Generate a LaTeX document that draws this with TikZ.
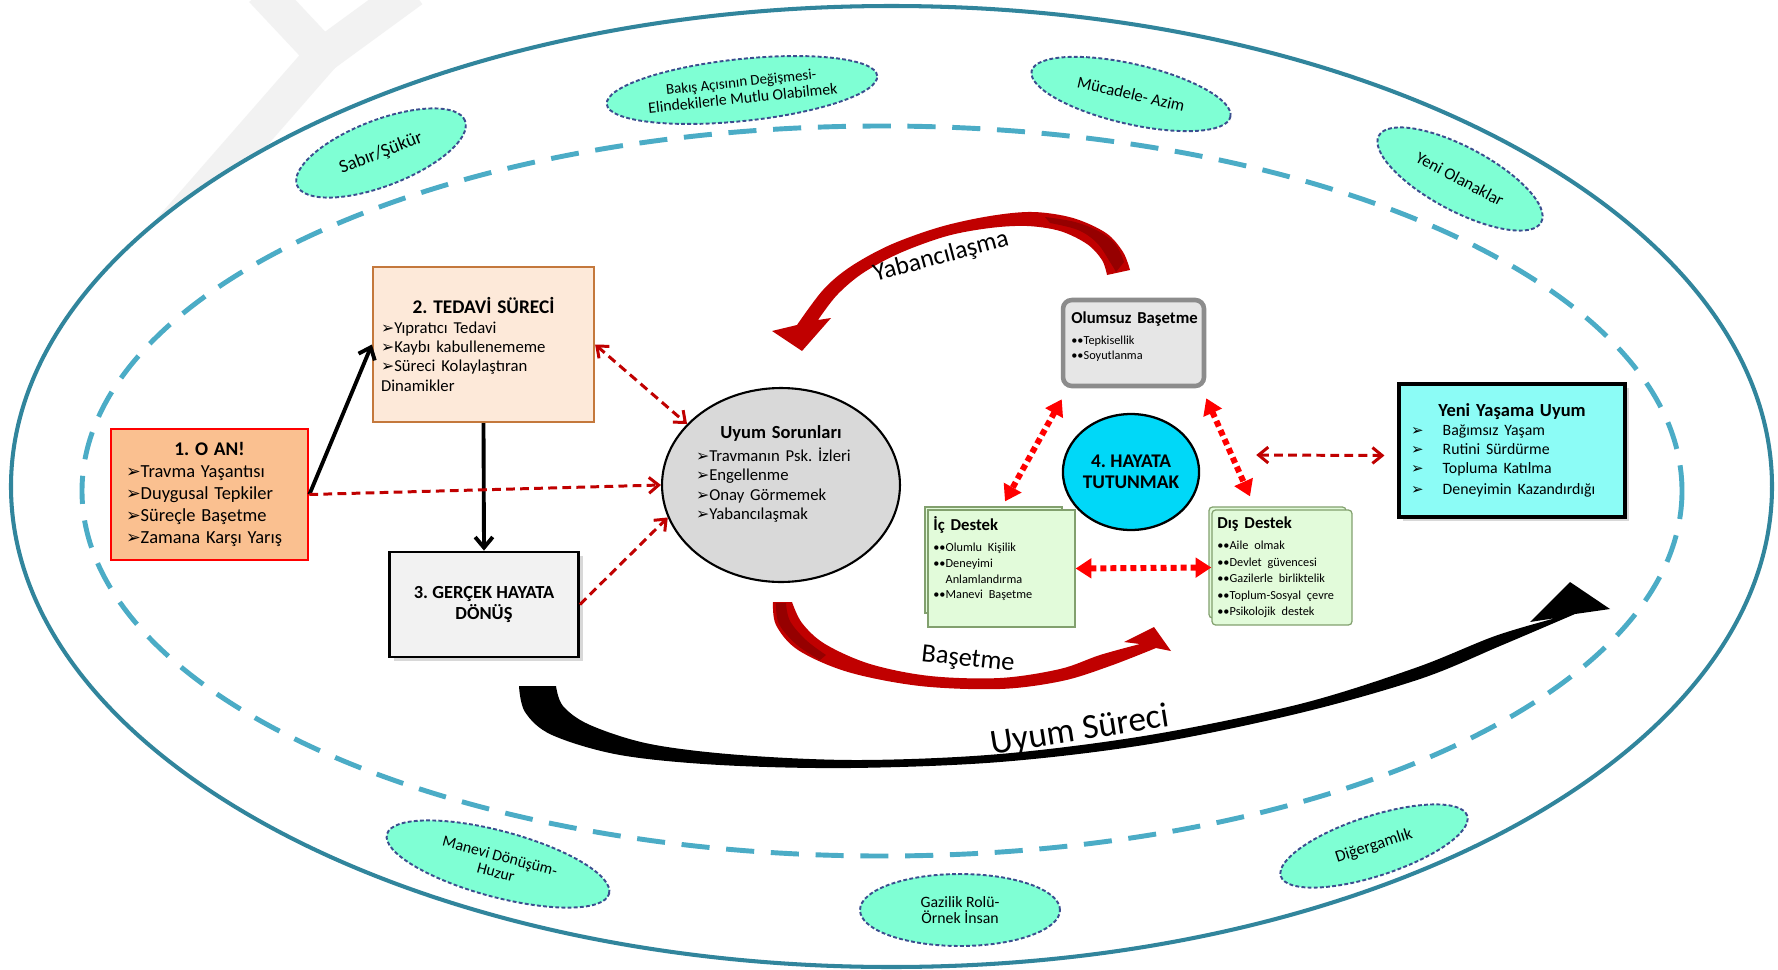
\documentclass[tikz,border=0pt]{standalone}
\usepackage{fontspec}
\setmainfont{Carlito}
\newfontfamily\djv{DejaVu Sans}
\usetikzlibrary{arrows.meta,shapes.geometric,shadows,calc}
\frenchspacing

\definecolor{ringteal}{RGB}{49,133,156}
\definecolor{ringblue}{RGB}{75,172,198}
\definecolor{tagfill}{RGB}{127,255,212}
\definecolor{tagline}{RGB}{59,78,143}
\definecolor{oanfill}{RGB}{250,192,144}
\definecolor{tedfill}{RGB}{253,233,217}
\definecolor{tedline}{RGB}{196,120,60}
\definecolor{darkred}{RGB}{192,0,0}
\definecolor{deepred}{RGB}{150,0,0}
\definecolor{uyfill}{RGB}{217,217,217}
\definecolor{olfill}{RGB}{230,230,230}
\definecolor{olline}{RGB}{140,140,140}
\definecolor{cyanfill}{RGB}{0,216,248}
\definecolor{grnfill}{RGB}{226,251,218}
\definecolor{grnline}{RGB}{130,160,110}
\definecolor{yenifill}{RGB}{140,252,246}
\definecolor{dotred}{RGB}{255,0,0}

\newcommand\fsz[2]{\fontsize{#1}{#2}\selectfont}
\newcommand\arw[1]{{\djv\fontsize{#1}{#1}\selectfont ➢}}
\newcommand\yitem{\makebox[18pt][l]{\arw{8.5}}}
\def\pu{0.569pt}

\tikzset{
  redbarb/.tip={Straight Barb[length=5.5pt,width=9pt]},
  redtri/.tip={Triangle[length=9pt,width=11pt]}
}

\begin{document}
\begin{tikzpicture}[x=0.02cm,y=-0.02cm,
  every node/.style={inner sep=0pt},
  tag/.style={ellipse, draw=tagline, fill=tagfill, line width=1.1pt,
    dash pattern=on 2.2pt off 1.3pt, align=center, font={\fsz{9}{9.5}}},
  oanbox/.style={draw=red, line width=1.6pt, fill=oanfill,
    minimum width=197*\pu, minimum height=131*\pu, text width=167*\pu, align=left},
  tedbox/.style={draw=tedline, line width=1.3pt, fill=tedfill,
    minimum width=221*\pu, minimum height=155*\pu, text width=205*\pu, align=left},
  gercekbox/.style={draw=black, line width=1.6pt, fill=black!5,
    minimum width=189*\pu, minimum height=105*\pu, align=center,
    font={\fsz{10.5}{12}\bfseries},
    drop shadow={shadow xshift=2.5pt, shadow yshift=-2.5pt, opacity=0.3}},
  uybox/.style={ellipse, draw=black, line width=1.2pt, fill=uyfill,
    minimum width=238*\pu, minimum height=194*\pu},
  olbox/.style={draw=olline, line width=2.6pt, fill=olfill, rounded corners=5pt,
    minimum width=141*\pu, minimum height=86*\pu},
  hayata/.style={ellipse, draw=black, line width=1.3pt, fill=cyanfill,
    minimum width=136*\pu, minimum height=116*\pu, align=center,
    font={\fsz{11}{12}\bfseries}},
  sheet/.style={draw=grnline, line width=0.7pt, fill=grnfill},
  yenibox/.style={draw=black, line width=1.8pt, fill=yenifill,
    minimum width=226*\pu, minimum height=133*\pu, text width=202*\pu, align=left,
    drop shadow={shadow xshift=2.5pt, shadow yshift=-2.5pt, opacity=0.3}},
  txt/.style={align=left},
  flow/.style={draw=black, line width=2.2pt, -{Straight Barb[length=6pt,width=10pt]}},
  reddash/.style={draw=darkred, line width=1.7pt, dash pattern=on 5pt off 3pt},
  reddot/.style={draw=dotred, line width=3.4pt, dash pattern=on 3.4pt off 2.3pt, redtri-redtri},
  wm/.style={draw=black!5, line width=20pt}
]
\fill[white] (0,0) rectangle (1778,970);
\useasboundingbox (0,0) rectangle (1778,970);

% faint watermark letter behind the rings
\draw[wm] (262,-10) -- (323,55);
\draw[wm] (412,-10) -- (323,55);
\draw[wm] (323,55) -- (170,230);

% rings
\draw[draw=ringteal, line width=2.3pt, fill=white] (891.5,486.5) ellipse [x radius=880.5, y radius=480.5];
\draw[draw=ringblue, line width=2.8pt, dash pattern=on 16pt off 9.5pt] (882,491) ellipse [x radius=800, y radius=365];

% value tags on the ring
\node[tag, minimum width=180*\pu, minimum height=66*\pu, rotate=21] (sabir) at (381,153) {\fsz{10.5}{11}Sabır/Şükür};
\node[tag, minimum width=272*\pu, minimum height=62*\pu, rotate=6] (bakis) at (742,90) {\fsz{8.5}{9.5}Bakış Açısının Değişmesi-\\Elindekilerle Mutlu Olabilmek};
\node[tag, minimum width=204*\pu, minimum height=60*\pu, rotate=-13] (mucadele) at (1131,94) {\fsz{9.5}{10}Mücadele- Azim};
\node[tag, minimum width=184*\pu, minimum height=64*\pu, rotate=-28] (yeniol) at (1460,179) {\fsz{9.5}{10}Yeni Olanaklar};
\node[tag, minimum width=230*\pu, minimum height=66*\pu, rotate=-15] (manevi) at (498,864) {Manevi Dönüşüm-\\Huzur};
\node[tag, minimum width=200*\pu, minimum height=72*\pu] (gazilik) at (960,910) {Gazilik Rolü-\\Örnek İnsan};
\node[tag, minimum width=196*\pu, minimum height=60*\pu, rotate=18] (diger) at (1374,846) {\fsz{9.5}{10}Diğergamlık};

% curved block arrows
\fill[darkred] plot[smooth,tension=0.55] coordinates {(1130,270) (1123,252) (1106,233) (1073,218) (1033,212) (990,216) (940,227) (890,245) (850,267) (823,290) (797,325)}
  -- (772,331) -- (802,351) -- (831,318)
  -- plot[smooth,tension=0.55] coordinates {(818,320) (837,295) (863,273) (900,253) (947,236) (990,228) (1027,226) (1060,231) (1087,244) (1102,260) (1107,275)} -- cycle;
\fill[deepred] plot[smooth,tension=0.6] coordinates {(1124,262) (1116,245) (1100,232) (1075,222) (1045,217)}
  -- plot[smooth,tension=0.6] coordinates {(1050,223) (1078,230) (1097,243) (1110,262) (1116,272)} -- cycle;

\fill[darkred] plot[smooth,tension=0.55] coordinates {(773,602) (776,625) (798,650) (848,672) (920,686) (1000,689) (1062,681) (1110,666) (1156,648)}
  -- (1171,651) -- (1154,627) -- (1124,642)
  -- plot[smooth,tension=0.55] coordinates {(1140,644) (1100,655) (1060,669) (1000,678) (930,676) (870,664) (825,644) (802,623) (792,602)} -- cycle;
\fill[deepred] plot[smooth,tension=0.6] coordinates {(776,603) (779,624) (797,645) (820,660)}
  -- plot[smooth,tension=0.6] coordinates {(826,655) (806,640) (790,621) (786,603)} -- cycle;

\fill[black] plot[smooth,tension=0.55] coordinates {(519,686) (525,712) (552,735) (620,755) (720,765) (850,768) (1000,762) (1150,744) (1300,713) (1420,679) (1500,646) (1575,614)}
  -- (1610,609) -- (1570,582) -- (1530,622)
  -- plot[smooth,tension=0.55] coordinates {(1556,618) (1495,636) (1415,668) (1300,704) (1150,735) (1000,754) (860,760) (740,755) (650,744) (590,725) (563,706) (556,686)} -- cycle;

\node[rotate=15, font={\fsz{14.5}{15}}] (yablbl) at (941,257) {Yabancılaşma};
\node[rotate=-6, font={\fsz{15}{15}}] (baslbl) at (968,660) {Başetme};
\node[rotate=9, font={\fsz{20}{20}}] (uslbl) at (1080,731) {Uyum Süreci};

% stages
\node[oanbox] (oan) at (209.5,494.5) {%
  {\centering\fsz{11}{13}\bfseries 1. O AN!\par}
  \fsz{10.5}{12.6}\arw{10}Travma Yaşantısı\par
  \arw{10}Duygusal Tepkiler\par
  \arw{10}Süreçle Başetme\par
  \arw{10}Zamana Karşı Yarış\par};

\node[tedbox] (tedavi) at (483.5,344.5) {%
  {\centering\fsz{11}{13}\bfseries 2. TEDAVİ SÜRECİ\par}
  \fsz{9.5}{11}\arw{9}Yıpratıcı Tedavi\par
  \arw{9}Kaybı kabullenememe\par
  \arw{9}Süreci Kolaylaştıran\par
  Dinamikler\par};

\node[gercekbox] (gercek) at (484,604.5) {3. GERÇEK HAYATA\\DÖNÜŞ};

\node[uybox] (uyum) at (781,485) {};
\node[txt, text width=170*\pu] (uytxt) at (781,474) {%
  {\centering\fsz{10.5}{12}\bfseries Uyum Sorunları\par}\vspace{2pt}
  \fsz{9.5}{11}\arw{9}Travmanın Psk. İzleri\par
  \arw{9}Engellenme\par
  \arw{9}Onay Görmemek\par
  \arw{9}Yabancılaşmak\par};

\node[olbox] (olum) at (1133.5,343) {};
\node[txt, anchor=north west, text width=132*\pu] (oltxt) at (1071,311) {%
  {\fsz{9.5}{11}\bfseries Olumsuz Başetme\par}\vspace{3pt}
  \fsz{7}{9}••Tepkisellik\par
  ••Soyutlanma\par};

\node[hayata] (hay) at (1131,472) {4. HAYATA\\TUTUNMAK};

% support sheets
\draw[sheet] (925,507) rectangle (1062,613);
\node[sheet, minimum width=147*\pu, minimum height=117*\pu] (icd) at (1001.5,568.5) {};
\node[txt, anchor=north west, text width=135*\pu] (ictxt) at (933,516) {%
  {\fsz{9.5}{11}\bfseries İç Destek\par}\vspace{3pt}
  \fsz{7}{9}••Olumlu Kişilik\par
  ••Deneyimi\par
  \hspace*{7pt}Anlamlandırma\par
  ••Manevi Başetme\par};

\draw[sheet, rounded corners=2pt] (1209,507) rectangle (1346,618);
\node[sheet, rounded corners=2pt, minimum width=140*\pu, minimum height=115*\pu] (dsd) at (1282,567.5) {};
\node[txt, anchor=north west, text width=135*\pu] (dstxt) at (1217,516) {%
  {\fsz{9.5}{11}\bfseries Dış Destek\par}\vspace{3pt}
  \fsz{7}{9.4}••Aile olmak\par
  ••Devlet güvencesi\par
  ••Gazilerle birliktelik\par
  ••Toplum-Sosyal çevre\par
  ••Psikolojik destek\par};

\node[yenibox] (yeni) at (1512,450.5) {%
  {\centering\fsz{10.5}{12}\bfseries Yeni Yaşama Uyum\par}
  \fsz{9}{10.8}\yitem Bağımsız Yaşam\par
  \yitem Rutini Sürdürme\par
  \yitem Topluma Katılma\par\vspace{1pt}
  \yitem Deneyimin Kazandırdığı\par};

% connectors
\draw[flow] (oan.east) -- (tedavi.west);
\draw[flow] (tedavi.south) -- (gercek.north);
\draw[reddash, -redbarb] (oan.east) -- (uyum.west);
\draw[reddash, redbarb-redbarb] (tedavi.east) -- (uyum.147);
\draw[reddash, -redbarb] (gercek.east) -- (uyum.196);
\draw[reddash, redbarb-redbarb] ($(hay.east)+(56,-17)$) -- ($(yeni.west)+(-13,5)$);
\draw[reddot] ($(olum.south west)+(1,11)$) -- ($(icd.north)+(3.5,-8)$);
\draw[reddot] ($(olum.south east)+(0,10)$) -- ($(dsd.north)+(-32,-13)$);
\draw[reddot] (icd.east) -- (dsd.west);
\end{tikzpicture}
\end{document}
